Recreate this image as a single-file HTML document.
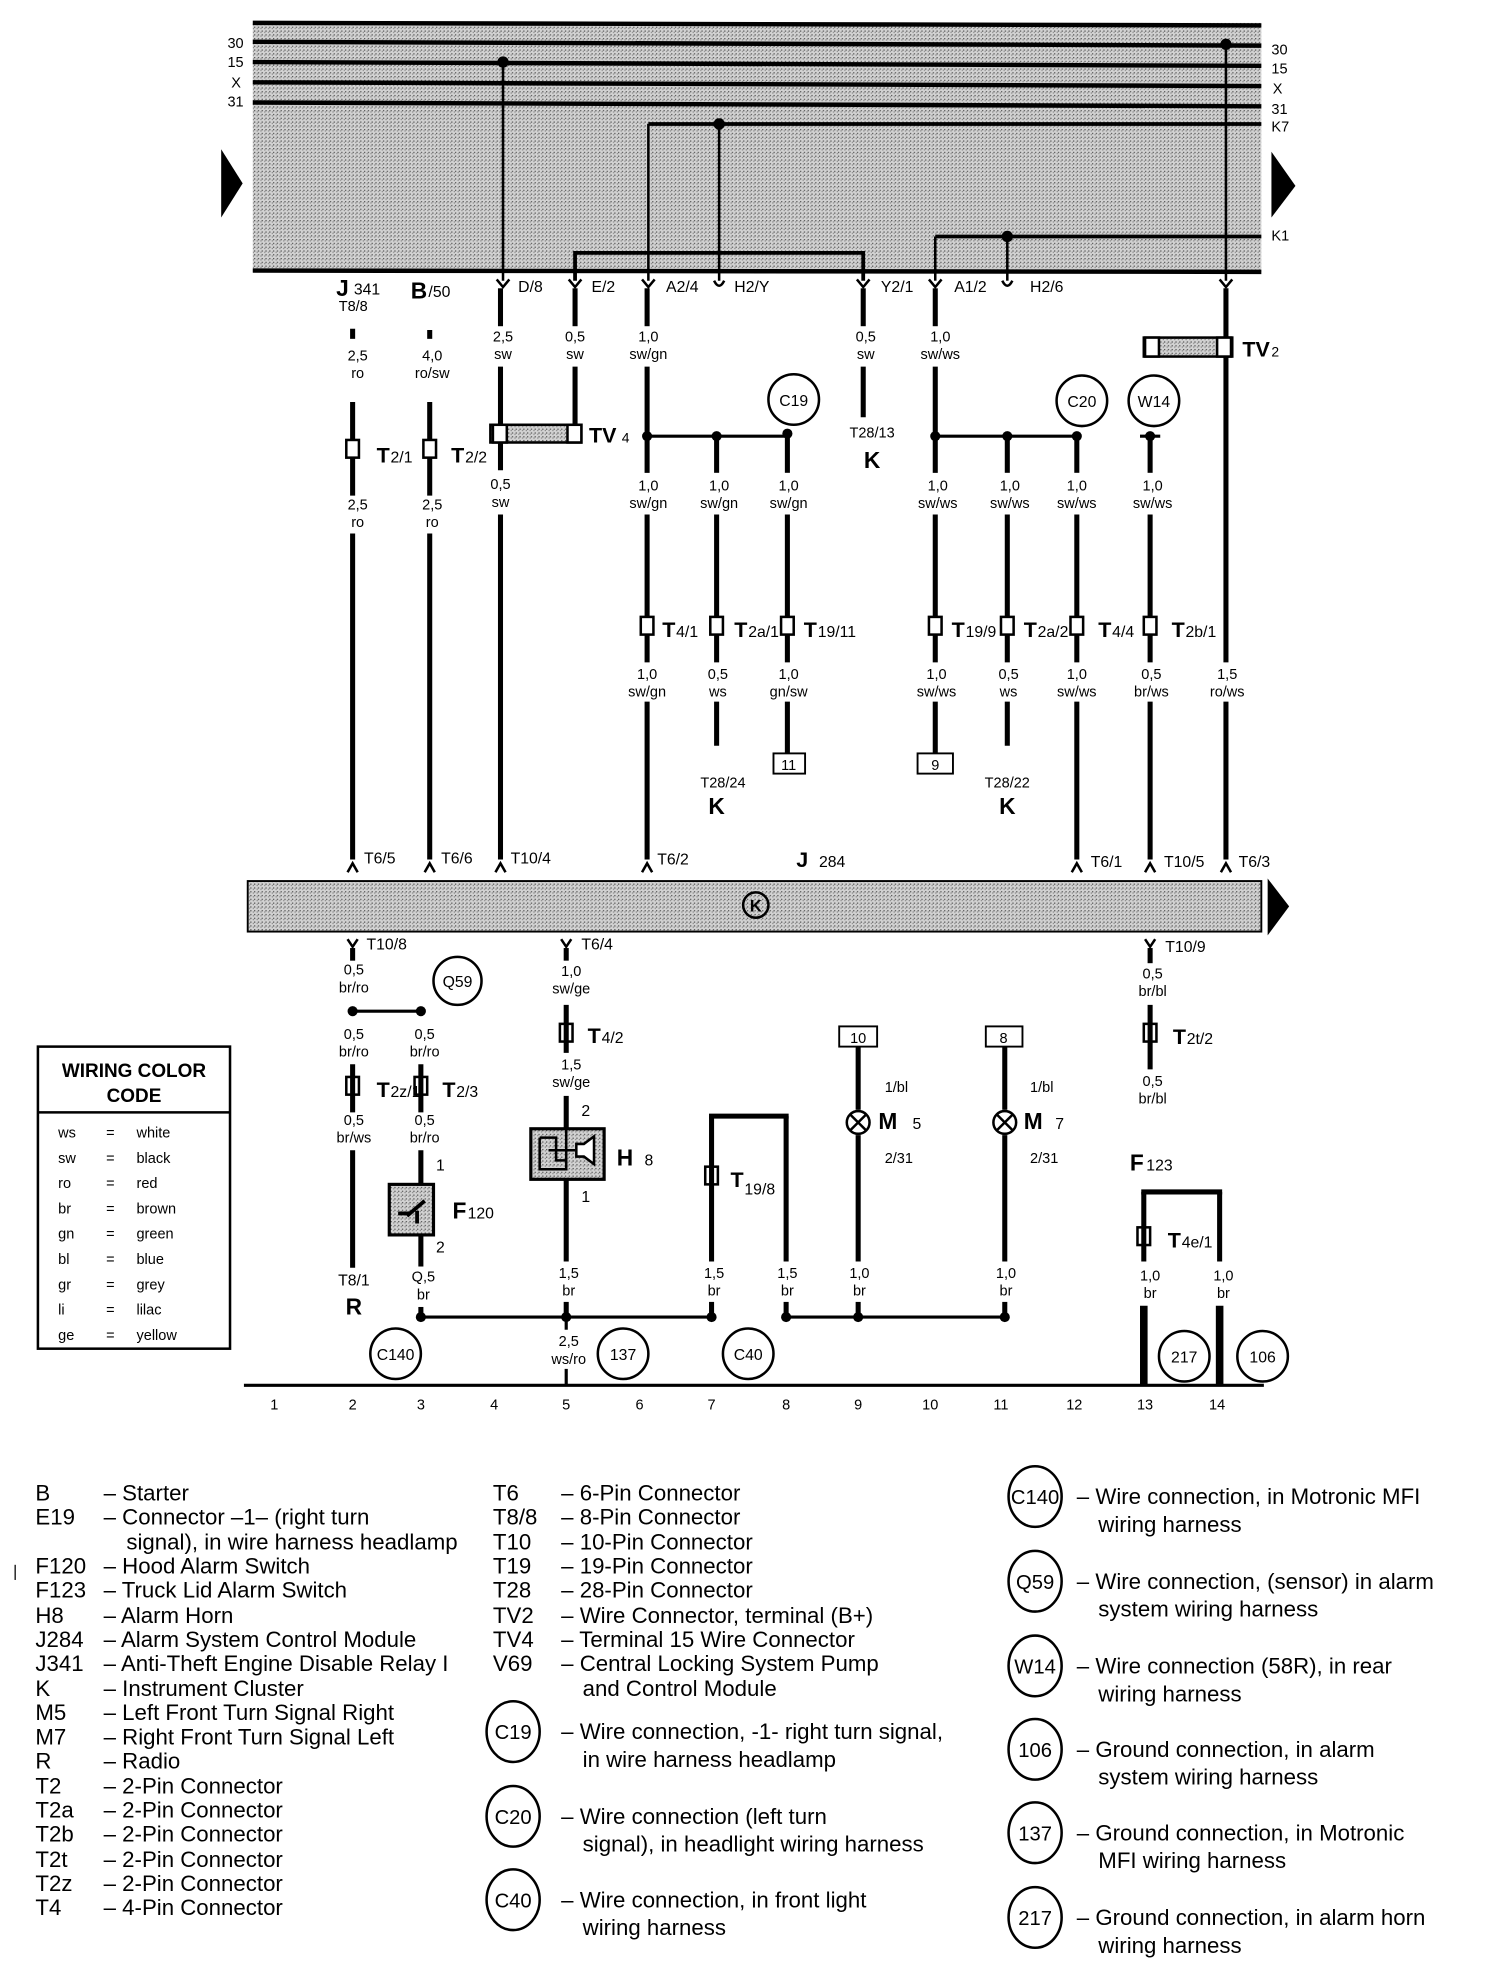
<!DOCTYPE html>
<html><head><meta charset="utf-8"><style>
html,body{margin:0;padding:0;background:#fff}
svg{display:block}
text{font-family:"Liberation Sans",sans-serif;fill:#000}
.s{font-size:11.5px}
.m{font-size:12.5px}
.b{font-weight:bold}
.lg{font-size:17.6px}
</style></head><body>
<svg width="1504" height="1982" viewBox="0 0 1190 1568" xmlns="http://www.w3.org/2000/svg">
<defs>
<pattern id="dots" width="3" height="3" patternUnits="userSpaceOnUse"><rect width="3" height="3" fill="#d2d2d2"/><rect width="1" height="1" fill="#555"/><rect x="2" y="1" width="1" height="1" fill="#888"/></pattern>
</defs>
<rect x="200" y="18" width="798" height="197" fill="url(#dots)"/>
<g stroke="#000" stroke-width="3.5" fill="none">
<line x1="200" y1="18" x2="998" y2="20"/>
<line x1="200" y1="33" x2="998" y2="36"/>
<line x1="200" y1="49" x2="998" y2="52"/>
<line x1="200" y1="65" x2="998" y2="68"/>
<line x1="200" y1="81" x2="998" y2="84"/>
<line x1="200" y1="214" x2="998" y2="215"/>
<line x1="513" y1="98" x2="998" y2="98" stroke-width="3"/>
<line x1="740" y1="187" x2="998" y2="187" stroke-width="3"/>
<polyline points="455,222 455,200 683,200 683,222" stroke-width="3"/>
</g>
<g stroke="#000" stroke-width="2" fill="none">
<line x1="398" y1="49" x2="398" y2="222"/>
<line x1="513" y1="98" x2="513" y2="222"/>
<line x1="569" y1="98" x2="569" y2="222"/>
<line x1="740" y1="187" x2="740" y2="222"/>
<line x1="797" y1="187" x2="797" y2="222"/>
<line x1="970" y1="35" x2="970" y2="222"/>
</g>
<g fill="#000">
<circle cx="398" cy="49" r="4.5"/><circle cx="569" cy="98" r="4.5"/><circle cx="797" cy="187" r="4.5"/><circle cx="970" cy="35" r="4.5"/>
<polygon points="175,118 192,145 175,172"/>
<polygon points="1006,120 1025,147 1006,172"/>
</g>
<g class="s">
<text x="180" y="38">30</text><text x="180" y="53">15</text><text x="183" y="69">X</text><text x="180" y="84">31</text>
<text x="1006" y="43">30</text><text x="1006" y="58">15</text><text x="1007" y="74">X</text><text x="1006" y="90">31</text><text x="1006" y="104">K7</text><text x="1006" y="190">K1</text>
</g>
<g stroke="#000" stroke-width="2" fill="none">
<path d="M393,221 L398,227 L403,221"/><path d="M450,221 L455,227 L460,221"/><path d="M508,221 L513,227 L518,221"/>
<path d="M565,222 Q569,230 573,222"/><path d="M678,221 L683,227 L688,221"/><path d="M735,221 L740,227 L745,221"/>
<path d="M793,222 Q797,230 801,222"/><path d="M965,221 L970,227 L975,221"/>
</g>
<g class="m">
<text x="266" y="234" class="b" font-size="18">J</text><text x="280" y="233">341</text>
<text x="325" y="236" class="b" font-size="18">B</text><text x="339" y="235">/50</text>
<text x="268" y="246" class="s">T8/8</text>
<text x="410" y="231">D/8</text><text x="468" y="231">E/2</text><text x="527" y="231">A2/4</text><text x="581" y="231">H2/Y</text>
<text x="697" y="231">Y2/1</text><text x="755" y="231">A1/2</text><text x="815" y="231">H2/6</text>
</g>
<g stroke="#000" stroke-width="4" fill="none">
<line x1="279" y1="260" x2="279" y2="268"/><line x1="340" y1="261" x2="340" y2="268"/>
<line x1="279" y1="318" x2="279" y2="392"/><line x1="279" y1="422" x2="279" y2="680"/>
<line x1="340" y1="318" x2="340" y2="392"/><line x1="340" y1="422" x2="340" y2="680"/>
<line x1="396" y1="228" x2="396" y2="258"/><line x1="396" y1="290" x2="396" y2="372"/><line x1="396" y1="407" x2="396" y2="680"/>
<line x1="455" y1="228" x2="455" y2="258"/><line x1="455" y1="290" x2="455" y2="340"/>
<line x1="512" y1="228" x2="512" y2="258"/><line x1="512" y1="290" x2="512" y2="374"/><line x1="512" y1="407" x2="512" y2="524"/><line x1="512" y1="555" x2="512" y2="680"/>
<line x1="567" y1="345" x2="567" y2="374"/><line x1="567" y1="407" x2="567" y2="524"/><line x1="567" y1="555" x2="567" y2="590"/>
<line x1="623" y1="345" x2="623" y2="374"/><line x1="623" y1="407" x2="623" y2="524"/><line x1="623" y1="555" x2="623" y2="596"/>
<line x1="683" y1="228" x2="683" y2="258"/><line x1="683" y1="290" x2="683" y2="330"/>
<line x1="740" y1="228" x2="740" y2="258"/><line x1="740" y1="290" x2="740" y2="374"/><line x1="740" y1="407" x2="740" y2="524"/><line x1="740" y1="555" x2="740" y2="597"/>
<line x1="797" y1="345" x2="797" y2="374"/><line x1="797" y1="407" x2="797" y2="524"/><line x1="797" y1="555" x2="797" y2="590"/>
<line x1="852" y1="345" x2="852" y2="374"/><line x1="852" y1="407" x2="852" y2="524"/><line x1="852" y1="555" x2="852" y2="680"/>
<line x1="910" y1="345" x2="910" y2="374"/><line x1="910" y1="407" x2="910" y2="524"/><line x1="910" y1="555" x2="910" y2="680"/>
<line x1="970" y1="228" x2="970" y2="524"/><line x1="970" y1="555" x2="970" y2="680"/>
</g>
<g stroke="#000" stroke-width="2.5" fill="none">
<line x1="512" y1="345" x2="623" y2="345"/><line x1="740" y1="345" x2="852" y2="345"/>
<line x1="902" y1="345" x2="918" y2="345"/>
</g>
<g fill="#000"><circle cx="512" cy="345" r="4"/><circle cx="567" cy="345" r="4"/><circle cx="623" cy="343" r="4"/>
<circle cx="740" cy="345" r="4"/><circle cx="797" cy="345" r="4"/><circle cx="852" cy="345" r="4"/><circle cx="910" cy="345" r="4"/></g>
<rect x="388" y="336" width="72" height="14" fill="url(#dots)" stroke="#000" stroke-width="2"/>
<rect x="905" y="267" width="70" height="15" fill="url(#dots)" stroke="#000" stroke-width="2"/>
<g fill="#fff" stroke="#000" stroke-width="2">
<rect x="390" y="336" width="11" height="14"/><rect x="449" y="336" width="11" height="14"/>
<rect x="906" y="267" width="11" height="15"/><rect x="963" y="267" width="11" height="15"/>
<rect x="274" y="348" width="10" height="14"/><rect x="335" y="348" width="10" height="14"/>
<rect x="507" y="488" width="10" height="14"/><rect x="562" y="488" width="10" height="14"/><rect x="618" y="488" width="10" height="14"/>
<rect x="735" y="488" width="10" height="14"/><rect x="792" y="488" width="10" height="14"/><rect x="847" y="488" width="10" height="14"/><rect x="905" y="488" width="10" height="14"/>
<rect x="274" y="852" width="10" height="14"/><rect x="328" y="852" width="10" height="14"/>
<rect x="443" y="810" width="10" height="14"/><rect x="558" y="923" width="10" height="14"/>
<rect x="905" y="810" width="10" height="14"/><rect x="900" y="971" width="10" height="14"/>
</g>
<g class="b" font-size="17">
<text x="298" y="366">T</text><text x="357" y="366">T</text><text x="466" y="350">TV</text><text x="983" y="282">TV</text>
<text x="524" y="504">T</text><text x="581" y="504">T</text><text x="636" y="504">T</text>
<text x="753" y="504">T</text><text x="810" y="504">T</text><text x="869" y="504">T</text><text x="927" y="504">T</text>
<text x="298" y="868">T</text><text x="350" y="868">T</text><text x="465" y="825">T</text><text x="578" y="939">T</text>
<text x="928" y="826">T</text><text x="924" y="987">T</text>
</g>
<g class="m">
<text x="309" y="366">2/1</text><text x="368" y="366">2/2</text><text x="492" y="350" font-size="11">4</text><text x="1006" y="282" font-size="11">2</text>
<text x="535" y="504">4/1</text><text x="592" y="504">2a/1</text><text x="647" y="504">19/11</text>
<text x="764" y="504">19/9</text><text x="821" y="504">2a/2</text><text x="880" y="504">4/4</text><text x="938" y="504">2b/1</text>
<text x="309" y="868">2z/1</text><text x="361" y="868">2/3</text><text x="476" y="825">4/2</text><text x="589" y="945">19/8</text>
<text x="939" y="826">2t/2</text><text x="935" y="987">4e/1</text>
</g>
<g fill="none" stroke="#000" stroke-width="2">
<circle cx="628" cy="316" r="20"/><circle cx="856" cy="317" r="20"/><circle cx="913" cy="317" r="20"/>
<circle cx="362" cy="776" r="19"/><circle cx="313" cy="1071" r="20"/><circle cx="493" cy="1071" r="20"/><circle cx="592" cy="1071" r="20"/>
<circle cx="937" cy="1073" r="20"/><circle cx="999" cy="1073" r="20"/>
</g>
<g class="m" text-anchor="middle" font-size="13">
<text x="628" y="321">C19</text><text x="856" y="322">C20</text><text x="913" y="322">W14</text>
<text x="362" y="781">Q59</text><text x="313" y="1076">C140</text><text x="493" y="1076">137</text><text x="592" y="1076">C40</text>
<text x="937" y="1078">217</text><text x="999" y="1078">106</text>
</g>
<g class="s" text-anchor="middle">
<text x="283" y="285">2,5</text><text x="283" y="299">ro</text>
<text x="342" y="285">4,0</text><text x="342" y="299">ro/sw</text>
<text x="398" y="270">2,5</text><text x="398" y="284">sw</text>
<text x="455" y="270">0,5</text><text x="455" y="284">sw</text>
<text x="513" y="270">1,0</text><text x="513" y="284">sw/gn</text>
<text x="685" y="270">0,5</text><text x="685" y="284">sw</text>
<text x="744" y="270">1,0</text><text x="744" y="284">sw/ws</text>
<text x="283" y="403">2,5</text><text x="283" y="417">ro</text>
<text x="342" y="403">2,5</text><text x="342" y="417">ro</text>
<text x="396" y="387">0,5</text><text x="396" y="401">sw</text>
<text x="513" y="388">1,0</text><text x="513" y="402">sw/gn</text>
<text x="569" y="388">1,0</text><text x="569" y="402">sw/gn</text>
<text x="624" y="388">1,0</text><text x="624" y="402">sw/gn</text>
<text x="742" y="388">1,0</text><text x="742" y="402">sw/ws</text>
<text x="799" y="388">1,0</text><text x="799" y="402">sw/ws</text>
<text x="852" y="388">1,0</text><text x="852" y="402">sw/ws</text>
<text x="912" y="388">1,0</text><text x="912" y="402">sw/ws</text>
<text x="512" y="537">1,0</text><text x="512" y="551">sw/gn</text>
<text x="568" y="537">0,5</text><text x="568" y="551">ws</text>
<text x="624" y="537">1,0</text><text x="624" y="551">gn/sw</text>
<text x="741" y="537">1,0</text><text x="741" y="551">sw/ws</text>
<text x="798" y="537">0,5</text><text x="798" y="551">ws</text>
<text x="852" y="537">1,0</text><text x="852" y="551">sw/ws</text>
<text x="911" y="537">0,5</text><text x="911" y="551">br/ws</text>
<text x="971" y="537">1,5</text><text x="971" y="551">ro/ws</text>
<text x="690" y="346">T28/13</text><text x="572" y="623">T28/24</text><text x="797" y="623">T28/22</text>
</g>
<g class="b" font-size="18" text-anchor="middle"><text x="690" y="370">K</text><text x="567" y="644">K</text><text x="797" y="644">K</text></g>
<rect x="612" y="596" width="25" height="16" fill="#fff" stroke="#000" stroke-width="1.5"/><text x="624" y="609" class="s" text-anchor="middle">11</text>
<rect x="726" y="596" width="28" height="16" fill="#fff" stroke="#000" stroke-width="1.5"/><text x="740" y="609" class="s" text-anchor="middle">9</text>
<rect x="196" y="697" width="802" height="40" fill="url(#dots)" stroke="#000" stroke-width="1.5"/>
<polygon points="1003,695 1020,717 1003,740" fill="#000"/>
<circle cx="598" cy="716" r="10" fill="none" stroke="#000" stroke-width="2"/><text x="598" y="721" text-anchor="middle" class="b" font-size="13">K</text>
<g stroke="#000" stroke-width="2" fill="none">
<path d="M275,690 L279,683 L283,690"/><path d="M336,690 L340,683 L344,690"/><path d="M392,690 L396,683 L400,690"/><path d="M508,690 L512,683 L516,690"/>
<path d="M848,690 L852,683 L856,690"/><path d="M906,690 L910,683 L914,690"/><path d="M966,690 L970,683 L974,690"/>
<path d="M275,743 L279,749 L283,743"/><path d="M444,743 L448,749 L452,743"/><path d="M906,743 L910,749 L914,743"/>
</g>
<g class="m">
<text x="288" y="683">T6/5</text><text x="349" y="683">T6/6</text><text x="404" y="683">T10/4</text><text x="520" y="684">T6/2</text>
<text x="863" y="686">T6/1</text><text x="921" y="686">T10/5</text><text x="980" y="686">T6/3</text>
<text x="290" y="751">T10/8</text><text x="460" y="751">T6/4</text><text x="922" y="753">T10/9</text>
<text x="630" y="686" class="b" font-size="17">J</text><text x="648" y="686">284</text>
</g>
<g stroke="#000" stroke-width="4" fill="none">
<line x1="279" y1="750" x2="279" y2="760"/><line x1="448" y1="750" x2="448" y2="760"/><line x1="910" y1="750" x2="910" y2="762"/>
<line x1="279" y1="842" x2="279" y2="880"/><line x1="279" y1="910" x2="279" y2="1003"/>
<line x1="333" y1="842" x2="333" y2="880"/><line x1="333" y1="910" x2="333" y2="937"/><line x1="333" y1="977" x2="333" y2="1002"/><line x1="333" y1="1034" x2="333" y2="1042"/>
<line x1="448" y1="795" x2="448" y2="833"/><line x1="448" y1="867" x2="448" y2="893"/><line x1="448" y1="933" x2="448" y2="998"/><line x1="448" y1="1030" x2="448" y2="1042"/>
<line x1="563" y1="883" x2="563" y2="998"/><line x1="563" y1="1030" x2="563" y2="1042"/>
<line x1="622" y1="883" x2="622" y2="998"/><line x1="622" y1="1030" x2="622" y2="1042"/>
<line x1="679" y1="828" x2="679" y2="878"/><line x1="679" y1="898" x2="679" y2="998"/><line x1="679" y1="1030" x2="679" y2="1042"/>
<line x1="795" y1="828" x2="795" y2="878"/><line x1="795" y1="898" x2="795" y2="998"/><line x1="795" y1="1030" x2="795" y2="1042"/>
<line x1="910" y1="795" x2="910" y2="846"/>
<line x1="905" y1="943" x2="905" y2="998"/><line x1="905" y1="1033" x2="905" y2="1096" stroke-width="6"/>
<line x1="965" y1="943" x2="965" y2="998"/><line x1="965" y1="1033" x2="965" y2="1096" stroke-width="6"/>
<polyline points="563,885 563,883 622,883 622,885"/>
<polyline points="905,945 905,943 965,943 965,945"/>
</g>
<g stroke="#000" stroke-width="2.5" fill="none">
<line x1="279" y1="800" x2="333" y2="800"/>
<line x1="333" y1="1042" x2="563" y2="1042"/><line x1="622" y1="1042" x2="795" y2="1042"/>
<line x1="448" y1="1042" x2="448" y2="1052"/><line x1="448" y1="1083" x2="448" y2="1096"/>
<line x1="193" y1="1096" x2="1000" y2="1096"/>
</g>
<g fill="#000"><circle cx="279" cy="800" r="4"/><circle cx="333" cy="800" r="4"/>
<circle cx="333" cy="1042" r="4"/><circle cx="448" cy="1042" r="4"/><circle cx="563" cy="1042" r="4"/><circle cx="622" cy="1042" r="4"/><circle cx="679" cy="1042" r="4"/><circle cx="795" cy="1042" r="4"/></g>
<rect x="308" y="937" width="35" height="40" fill="url(#dots)" stroke="#000" stroke-width="2.5"/>
<path d="M315,960 L325,960 M322,962 L336,950 M330,968 L330,958" stroke="#000" stroke-width="3" fill="none"/>
<text x="358" y="964" class="b" font-size="18">F</text><text x="370" y="964" class="m">120</text>
<text x="345" y="926" class="m">1</text><text x="345" y="991" class="m">2</text>
<rect x="420" y="893" width="58" height="40" fill="url(#dots)" stroke="#000" stroke-width="2.5"/>
<path d="M427,900 L440,900 L440,918 L448,918 M427,900 L427,925 L448,925 L448,893 M434,910 L455,910" stroke="#000" stroke-width="2" fill="none"/>
<path d="M456,905 L462,905 L470,899 L470,921 L462,915 L456,915 Z" fill="#fff" stroke="#000" stroke-width="2"/>
<text x="488" y="922" class="b" font-size="18">H</text><text x="510" y="922" class="m">8</text>
<text x="460" y="883" class="m">2</text><text x="460" y="951" class="m">1</text>
<g fill="#fff" stroke="#000" stroke-width="2">
<circle cx="679" cy="888" r="9"/><circle cx="795" cy="888" r="9"/>
</g>
<path d="M673,882 L685,894 M685,882 L673,894 M789,882 L801,894 M801,882 L789,894" stroke="#000" stroke-width="2"/>
<rect x="664" y="812" width="30" height="16" fill="#fff" stroke="#000" stroke-width="1.5"/><text x="679" y="825" class="s" text-anchor="middle">10</text>
<rect x="780" y="812" width="29" height="16" fill="#fff" stroke="#000" stroke-width="1.5"/><text x="794" y="825" class="s" text-anchor="middle">8</text>
<text x="695" y="893" class="b" font-size="18">M</text><text x="722" y="893" class="m">5</text>
<text x="810" y="893" class="b" font-size="18">M</text><text x="835" y="893" class="m">7</text>
<g class="s"><text x="700" y="864">1/bl</text><text x="700" y="920">2/31</text><text x="815" y="864">1/bl</text><text x="815" y="920">2/31</text></g>
<text x="894" y="926" class="b" font-size="18">F</text><text x="907" y="926" class="m">123</text>
<g class="b" font-size="18" text-anchor="middle"><text x="280" y="1040">R</text></g>
<g class="s" text-anchor="middle">
<text x="280" y="771">0,5</text><text x="280" y="785">br/ro</text>
<text x="280" y="822">0,5</text><text x="280" y="836">br/ro</text>
<text x="336" y="822">0,5</text><text x="336" y="836">br/ro</text>
<text x="280" y="890">0,5</text><text x="280" y="904">br/ws</text>
<text x="336" y="890">0,5</text><text x="336" y="904">br/ro</text>
<text x="280" y="1017" class="m">T8/1</text>
<text x="335" y="1014">Q,5</text><text x="335" y="1028">br</text>
<text x="452" y="772">1,0</text><text x="452" y="786">sw/ge</text>
<text x="452" y="846">1,5</text><text x="452" y="860">sw/ge</text>
<text x="450" y="1011">1,5</text><text x="450" y="1025">br</text>
<text x="450" y="1065">2,5</text><text x="450" y="1079">ws/ro</text>
<text x="565" y="1011">1,5</text><text x="565" y="1025">br</text>
<text x="623" y="1011">1,5</text><text x="623" y="1025">br</text>
<text x="680" y="1011">1,0</text><text x="680" y="1025">br</text>
<text x="796" y="1011">1,0</text><text x="796" y="1025">br</text>
<text x="912" y="774">0,5</text><text x="912" y="788">br/bl</text>
<text x="912" y="859">0,5</text><text x="912" y="873">br/bl</text>
<text x="910" y="1013">1,0</text><text x="910" y="1027">br</text>
<text x="968" y="1013">1,0</text><text x="968" y="1027">br</text>
</g>
<g class="s" text-anchor="middle">
<text x="217" y="1115">1</text><text x="279" y="1115">2</text><text x="333" y="1115">3</text><text x="391" y="1115">4</text><text x="448" y="1115">5</text><text x="506" y="1115">6</text><text x="563" y="1115">7</text><text x="622" y="1115">8</text><text x="679" y="1115">9</text><text x="736" y="1115">10</text><text x="792" y="1115">11</text><text x="850" y="1115">12</text><text x="906" y="1115">13</text><text x="963" y="1115">14</text>
</g>
<rect x="30" y="828" width="152" height="239" fill="#fff" stroke="#000" stroke-width="2"/>
<line x1="30" y1="880" x2="182" y2="880" stroke="#000" stroke-width="2"/>
<text x="106" y="852" text-anchor="middle" class="b" font-size="15">WIRING COLOR</text>
<text x="106" y="872" text-anchor="middle" class="b" font-size="15">CODE</text>
<g class="s">
<text x="46" y="900">ws</text><text x="84" y="900">=</text><text x="108" y="900">white</text>
<text x="46" y="920">sw</text><text x="84" y="920">=</text><text x="108" y="920">black</text>
<text x="46" y="940">ro</text><text x="84" y="940">=</text><text x="108" y="940">red</text>
<text x="46" y="960">br</text><text x="84" y="960">=</text><text x="108" y="960">brown</text>
<text x="46" y="980">gn</text><text x="84" y="980">=</text><text x="108" y="980">green</text>
<text x="46" y="1000">bl</text><text x="84" y="1000">=</text><text x="108" y="1000">blue</text>
<text x="46" y="1020">gr</text><text x="84" y="1020">=</text><text x="108" y="1020">grey</text>
<text x="46" y="1040">li</text><text x="84" y="1040">=</text><text x="108" y="1040">lilac</text>
<text x="46" y="1060">ge</text><text x="84" y="1060">=</text><text x="108" y="1060">yellow</text>
</g>
<g class="lg">
<text x="28" y="1187">B</text><text x="82" y="1187">– Starter</text>
<text x="28" y="1206">E19</text><text x="82" y="1206">– Connector –1– (right turn</text>
<text x="100" y="1226">signal), in wire harness headlamp</text>
<text x="28" y="1245">F120</text><text x="82" y="1245">– Hood Alarm Switch</text>
<text x="28" y="1264">F123</text><text x="82" y="1264">– Truck Lid Alarm Switch</text>
<text x="28" y="1284">H8</text><text x="82" y="1284">– Alarm Horn</text>
<text x="28" y="1303">J284</text><text x="82" y="1303">– Alarm System Control Module</text>
<text x="28" y="1322">J341</text><text x="82" y="1322">– Anti-Theft Engine Disable Relay I</text>
<text x="28" y="1342">K</text><text x="82" y="1342">– Instrument Cluster</text>
<text x="28" y="1361">M5</text><text x="82" y="1361">– Left Front Turn Signal Right</text>
<text x="28" y="1380">M7</text><text x="82" y="1380">– Right Front Turn Signal Left</text>
<text x="28" y="1399">R</text><text x="82" y="1399">– Radio</text>
<text x="28" y="1419">T2</text><text x="82" y="1419">– 2-Pin Connector</text>
<text x="28" y="1438">T2a</text><text x="82" y="1438">– 2-Pin Connector</text>
<text x="28" y="1457">T2b</text><text x="82" y="1457">– 2-Pin Connector</text>
<text x="28" y="1477">T2t</text><text x="82" y="1477">– 2-Pin Connector</text>
<text x="28" y="1496">T2z</text><text x="82" y="1496">– 2-Pin Connector</text>
<text x="28" y="1515">T4</text><text x="82" y="1515">– 4-Pin Connector</text>
<text x="390" y="1187">T6</text><text x="444" y="1187">– 6-Pin Connector</text>
<text x="390" y="1206">T8/8</text><text x="444" y="1206">– 8-Pin Connector</text>
<text x="390" y="1226">T10</text><text x="444" y="1226">– 10-Pin Connector</text>
<text x="390" y="1245">T19</text><text x="444" y="1245">– 19-Pin Connector</text>
<text x="390" y="1264">T28</text><text x="444" y="1264">– 28-Pin Connector</text>
<text x="390" y="1284">TV2</text><text x="444" y="1284">– Wire Connector, terminal (B+)</text>
<text x="390" y="1303">TV4</text><text x="444" y="1303">– Terminal 15 Wire Connector</text>
<text x="390" y="1322">V69</text><text x="444" y="1322">– Central Locking System Pump</text>
<text x="461" y="1342">and Control Module</text>
<text x="444" y="1376">– Wire connection, -1- right turn signal,</text><text x="461" y="1398">in wire harness headlamp</text>
<text x="444" y="1443">– Wire connection (left turn</text><text x="461" y="1465">signal), in headlight wiring harness</text>
<text x="444" y="1509">– Wire connection, in front light</text><text x="461" y="1531">wiring harness</text>
<text x="852" y="1190">– Wire connection, in Motronic MFI</text><text x="869" y="1212">wiring harness</text>
<text x="852" y="1257">– Wire connection, (sensor) in alarm</text><text x="869" y="1279">system wiring harness</text>
<text x="852" y="1324">– Wire connection (58R), in rear</text><text x="869" y="1346">wiring harness</text>
<text x="852" y="1390">– Ground connection, in alarm</text><text x="869" y="1412">system wiring harness</text>
<text x="852" y="1456">– Ground connection, in Motronic</text><text x="869" y="1478">MFI wiring harness</text>
<text x="852" y="1523">– Ground connection, in alarm horn</text><text x="869" y="1545">wiring harness</text>
</g>
<g fill="none" stroke="#000" stroke-width="2">
<ellipse cx="406" cy="1370" rx="21" ry="24"/><ellipse cx="406" cy="1437" rx="21" ry="24"/><ellipse cx="406" cy="1503" rx="21" ry="24"/>
<ellipse cx="819" cy="1184" rx="21" ry="24"/><ellipse cx="819" cy="1251" rx="21" ry="24"/><ellipse cx="819" cy="1318" rx="21" ry="24"/>
<ellipse cx="819" cy="1384" rx="21" ry="24"/><ellipse cx="819" cy="1450" rx="21" ry="24"/><ellipse cx="819" cy="1517" rx="21" ry="24"/>
</g>
<g font-size="16" text-anchor="middle">
<text x="406" y="1376">C19</text><text x="406" y="1443">C20</text><text x="406" y="1509">C40</text>
<text x="819" y="1190">C140</text><text x="819" y="1257">Q59</text><text x="819" y="1324">W14</text>
<text x="819" y="1390">106</text><text x="819" y="1456">137</text><text x="819" y="1523">217</text>
</g>
<line x1="12" y1="1238" x2="12" y2="1250" stroke="#000" stroke-width="1"/>
</svg>
</body></html>
